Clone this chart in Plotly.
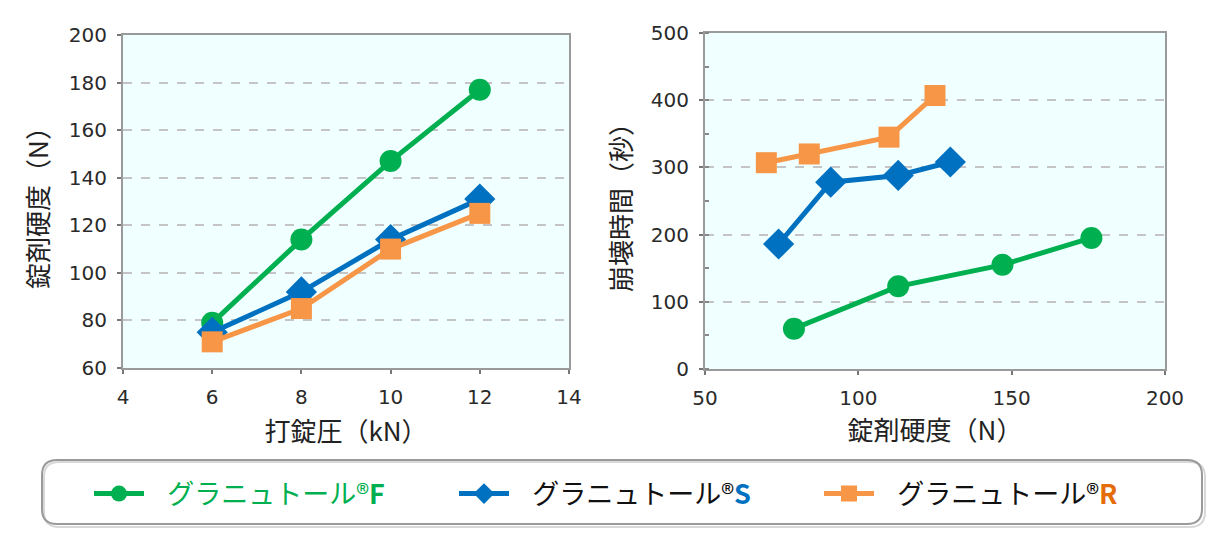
import plotly.graph_objects as go

# ---- data ----
pressure_kN = [6, 8, 10, 12]
hard_F = [79, 114, 147, 177]
hard_S = [75, 92, 114, 131]
hard_R = [71, 85, 110, 125]

disint_hard_F = [79, 113, 147, 176]
disint_time_F = [60, 123, 155, 195]
disint_hard_S = [74, 91, 113, 130]
disint_time_S = [186, 278, 288, 308]
disint_hard_R = [70, 84, 110, 125]
disint_time_R = [307, 320, 345, 407]

names = [
    "&nbsp;&nbsp;&nbsp;<span style='color:#00B050'>グラニュトール®<b>F</b></span>",
    "&nbsp;&nbsp;&nbsp;グラニュトール®<b><span style='color:#0070C0'>S</span></b>",
    "&nbsp;&nbsp;&nbsp;グラニュトール®<b><span style='color:#E46C0A'>R</span></b>",
]
colors = ["#00B050", "#0070C0", "#F79646"]
symbols = ["circle", "diamond", "square"]
sizes = [22, 24, 21]

W, H = 1223, 552
OFF = 8  # page body margin
FONT = "Noto Sans CJK JP"
NUMFONT = "DejaVu Sans"

fig = go.Figure()

left_y = [hard_F, hard_S, hard_R]
right_x = [disint_hard_F, disint_hard_S, disint_hard_R]
right_y = [disint_time_F, disint_time_S, disint_time_R]

for i in range(3):
    fig.add_trace(go.Scatter(
        x=pressure_kN, y=left_y[i], mode="lines+markers", name=names[i],
        line=dict(color=colors[i], width=5),
        marker=dict(color=colors[i], symbol=symbols[i], size=sizes[i]),
        xaxis="x", yaxis="y", showlegend=True,
    ))
for i in range(3):
    fig.add_trace(go.Scatter(
        x=right_x[i], y=right_y[i], mode="lines+markers", name=names[i],
        line=dict(color=colors[i], width=5),
        marker=dict(color=colors[i], symbol=symbols[i], size=sizes[i]),
        xaxis="x2", yaxis="y2", showlegend=False,
    ))

def px_x(p):
    return (p - OFF) / W

def px_y(p):
    return (H - (p - OFF)) / H

axis_common = dict(
    showline=True, linecolor="#9a9a9a", linewidth=2, mirror=True,
    ticks="outside", ticklen=4, tickcolor="#777", tickwidth=1.5,
    tickfont=dict(family=NUMFONT, size=20, color="#2a2a2a"),
    zeroline=False, automargin=False,
)
title_font = dict(size=26, family=FONT, color="#222")

fig.update_layout(
    width=W, height=H,
    margin=dict(l=0, r=0, t=0, b=0, autoexpand=False),
    paper_bgcolor="white",
    plot_bgcolor="#F0FFFF",
    font=dict(family=FONT, color="#222"),
    xaxis=dict(domain=[px_x(123), px_x(569)], range=[4, 14], dtick=2,
               showgrid=False, anchor="y", ticklabelstandoff=6,
               title=dict(text="打錠圧（kN）", font=title_font, standoff=15),
               **axis_common),
    yaxis=dict(domain=[px_y(368), px_y(35)], range=[60, 200], dtick=20,
               showgrid=True, gridcolor="#c4c4c4", griddash="dash", gridwidth=1.5,
               anchor="x", ticklabelstandoff=6,
               title=dict(text="錠剤硬度（N）", font=title_font, standoff=13),
               **axis_common),
    xaxis2=dict(domain=[px_x(705), px_x(1165)], range=[50, 200], dtick=50,
                showgrid=False, anchor="y2", ticklabelstandoff=6,
                title=dict(text="錠剤硬度（N）", font=title_font, standoff=8),
                **axis_common),
    yaxis2=dict(domain=[px_y(369), px_y(33)], range=[0, 500], dtick=100,
                showgrid=True, gridcolor="#c4c4c4", griddash="dash", gridwidth=1.5,
                anchor="x2", ticklabelstandoff=6,
                minor=dict(ticks="inside", ticklen=4, tickcolor="#888", dtick=50, showgrid=False),
                title=dict(text="崩壊時間（秒）", font=title_font, standoff=12),
                **axis_common),
    legend=dict(
        orientation="h", x=px_x(89), y=px_y(494), xanchor="left", yanchor="middle",
        font=dict(family=FONT, size=27, color="#111"),
        bgcolor="rgba(0,0,0,0)", entrywidth=300, entrywidthmode="pixels",
        itemwidth=50, itemsizing="trace", traceorder="normal",
    ),
)

# rounded legend frame (with a soft shadow)
def rounded_path(x0, y0, x1, y1, r):
    X = lambda v: px_x(v)
    Y = lambda v: px_y(v)
    return (f"M {X(x0 + r)} {Y(y0)} L {X(x1 - r)} {Y(y0)} Q {X(x1)} {Y(y0)} {X(x1)} {Y(y0 + r)} "
            f"L {X(x1)} {Y(y1 - r)} Q {X(x1)} {Y(y1)} {X(x1 - r)} {Y(y1)} "
            f"L {X(x0 + r)} {Y(y1)} Q {X(x0)} {Y(y1)} {X(x0)} {Y(y1 - r)} "
            f"L {X(x0)} {Y(y0 + r)} Q {X(x0)} {Y(y0)} {X(x0 + r)} {Y(y0)} Z")

fig.add_shape(type="path", xref="paper", yref="paper",
              path=rounded_path(44, 462, 1205, 527, 15),
              line=dict(color="#d8d8d8", width=2), fillcolor="rgba(0,0,0,0)", layer="below")
fig.add_shape(type="path", xref="paper", yref="paper",
              path=rounded_path(42, 460, 1202, 524, 15),
              line=dict(color="#9a9a9a", width=2), fillcolor="rgba(0,0,0,0)", layer="below")

fig.write_html("out.html")
